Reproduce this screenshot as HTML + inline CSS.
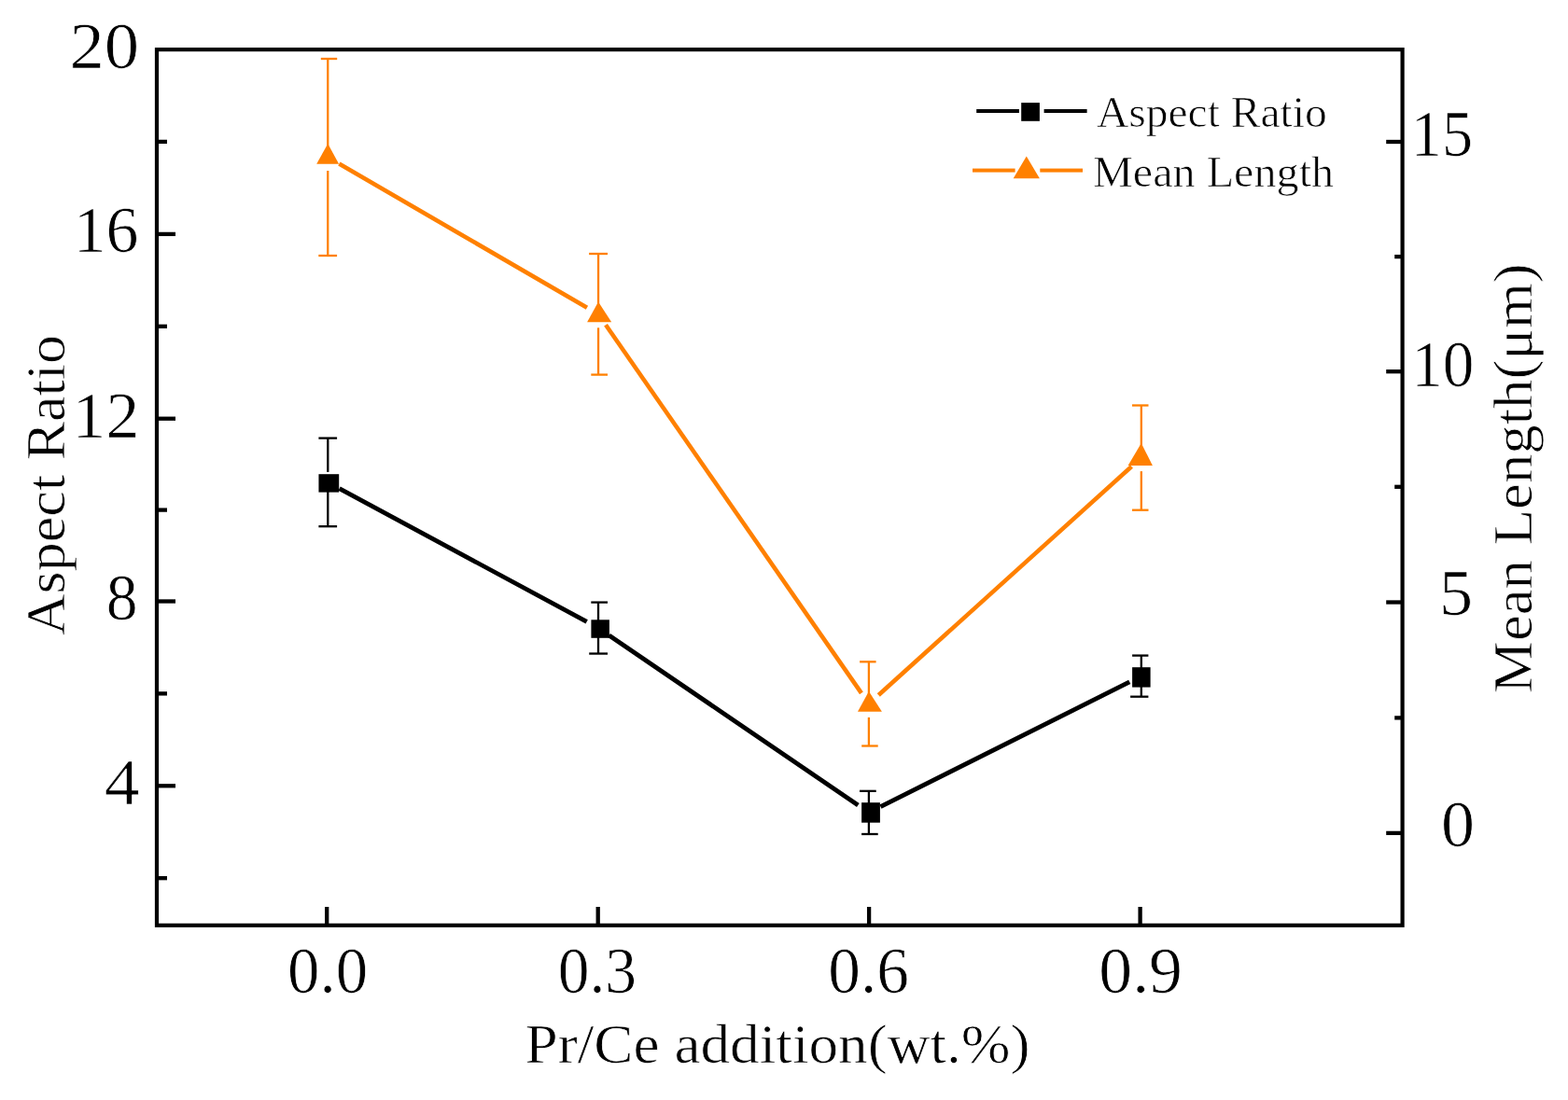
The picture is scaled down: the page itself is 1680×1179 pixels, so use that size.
<!DOCTYPE html>
<html><head><meta charset="utf-8"><title>Aspect Ratio and Mean Length vs Pr/Ce addition</title>
<style>
html,body{margin:0;padding:0;background:#fff;width:1680px;height:1179px;overflow:hidden}
svg{display:block}
text{font-family:'Liberation Serif', 'Times New Roman', serif;fill:#000;stroke:#fff;stroke-width:0.7;stroke-linejoin:round}
</style></head><body>
<svg width="1680" height="1179" viewBox="0 0 1680 1179">
<rect x="0" y="0" width="1680" height="1179" fill="#fff"/>
<line x1="363.62" y1="523.54" x2="628.68" y2="666.46" stroke="#000000" stroke-width="4.8"/>
<line x1="652.56" y1="680.99" x2="919.34" y2="863.01" stroke="#000000" stroke-width="4.8"/>
<line x1="943.42" y1="864.63" x2="1210.28" y2="730.92" stroke="#000000" stroke-width="4.8"/>
<line x1="363.36" y1="175.53" x2="628.94" y2="329.77" stroke="#FF8000" stroke-width="4.6"/>
<line x1="649.03" y1="348.30" x2="922.92" y2="742.90" stroke="#FF8000" stroke-width="4.6"/>
<line x1="941.29" y1="745.01" x2="1212.41" y2="499.99" stroke="#FF8000" stroke-width="4.6"/>
<line x1="351.3" y1="469.6" x2="351.3" y2="505.90" stroke="#000000" stroke-width="2.3"/>
<line x1="351.3" y1="524.90" x2="351.3" y2="564.2" stroke="#000000" stroke-width="2.3"/>
<line x1="341.4" y1="469.6" x2="361.1" y2="469.6" stroke="#000000" stroke-width="2.3"/>
<line x1="341.4" y1="564.2" x2="361.1" y2="564.2" stroke="#000000" stroke-width="2.3"/>
<line x1="641.0" y1="645.6" x2="641.0" y2="665.10" stroke="#000000" stroke-width="2.3"/>
<line x1="641.0" y1="681.10" x2="641.0" y2="700.55" stroke="#000000" stroke-width="2.3"/>
<line x1="633.3" y1="645.6" x2="651.0" y2="645.6" stroke="#000000" stroke-width="2.3"/>
<line x1="631.2" y1="700.55" x2="651.0" y2="700.55" stroke="#000000" stroke-width="2.3"/>
<line x1="930.9" y1="847.85" x2="930.9" y2="862.90" stroke="#000000" stroke-width="2.3"/>
<line x1="930.9" y1="878.90" x2="930.9" y2="894.0" stroke="#000000" stroke-width="2.3"/>
<line x1="921.0" y1="847.85" x2="938.7" y2="847.85" stroke="#000000" stroke-width="2.3"/>
<line x1="923.1" y1="894.0" x2="940.7" y2="894.0" stroke="#000000" stroke-width="2.3"/>
<line x1="1222.8" y1="702.6" x2="1222.8" y2="716.65" stroke="#000000" stroke-width="2.3"/>
<line x1="1222.8" y1="732.65" x2="1222.8" y2="746.7" stroke="#000000" stroke-width="2.3"/>
<line x1="1213.1" y1="702.6" x2="1230.4" y2="702.6" stroke="#000000" stroke-width="2.3"/>
<line x1="1211.1" y1="746.7" x2="1230.4" y2="746.7" stroke="#000000" stroke-width="2.3"/>
<line x1="351.25" y1="63.0" x2="351.25" y2="160.50" stroke="#FF8000" stroke-width="2.3"/>
<line x1="351.25" y1="183.00" x2="351.25" y2="274.0" stroke="#FF8000" stroke-width="2.3"/>
<line x1="343.8" y1="63.0" x2="361.2" y2="63.0" stroke="#FF8000" stroke-width="2.3"/>
<line x1="341.3" y1="274.0" x2="361.1" y2="274.0" stroke="#FF8000" stroke-width="2.3"/>
<line x1="641.05" y1="272.0" x2="641.05" y2="328.80" stroke="#FF8000" stroke-width="2.3"/>
<line x1="641.05" y1="351.30" x2="641.05" y2="401.6" stroke="#FF8000" stroke-width="2.3"/>
<line x1="631.1" y1="272.0" x2="651.0" y2="272.0" stroke="#FF8000" stroke-width="2.3"/>
<line x1="633.3" y1="401.6" x2="651.0" y2="401.6" stroke="#FF8000" stroke-width="2.3"/>
<line x1="930.9" y1="709.3" x2="930.9" y2="746.40" stroke="#FF8000" stroke-width="2.3"/>
<line x1="930.9" y1="768.90" x2="930.9" y2="799.5" stroke="#FF8000" stroke-width="2.3"/>
<line x1="921.1" y1="709.3" x2="938.6" y2="709.3" stroke="#FF8000" stroke-width="2.3"/>
<line x1="923.2" y1="799.5" x2="940.7" y2="799.5" stroke="#FF8000" stroke-width="2.3"/>
<line x1="1222.8" y1="434.5" x2="1222.8" y2="482.60" stroke="#FF8000" stroke-width="2.3"/>
<line x1="1222.8" y1="505.10" x2="1222.8" y2="546.7" stroke="#FF8000" stroke-width="2.3"/>
<line x1="1213.0" y1="434.5" x2="1230.5" y2="434.5" stroke="#FF8000" stroke-width="2.3"/>
<line x1="1213.0" y1="546.7" x2="1230.5" y2="546.7" stroke="#FF8000" stroke-width="2.3"/>
<rect x="341.45" y="508.2" width="21.75" height="19.40" fill="#000"/>
<rect x="633.4" y="664.3" width="19.50" height="19.50" fill="#000"/>
<rect x="923.1" y="860.2" width="19.80" height="21.50" fill="#000"/>
<rect x="1213.1" y="715.2" width="19.50" height="21.40" fill="#000"/>
<polygon points="351.25,154.00 363.10,175.70 339.20,175.70" fill="#FF8000"/>
<polygon points="641.05,323.40 655.20,345.20 629.10,345.20" fill="#FF8000"/>
<polygon points="930.90,741.10 944.90,762.80 919.00,762.80" fill="#FF8000"/>
<polygon points="1222.80,475.10 1234.90,499.00 1208.60,499.00" fill="#FF8000"/>
<rect x="168.0" y="53.1" width="1334.60" height="938.70" fill="none" stroke="#000" stroke-width="4.2"/>
<line x1="168.0" y1="250.9" x2="188" y2="250.9" stroke="#000" stroke-width="4.3"/>
<line x1="168.0" y1="448.7" x2="188" y2="448.7" stroke="#000" stroke-width="4.3"/>
<line x1="168.0" y1="644.5" x2="188" y2="644.5" stroke="#000" stroke-width="4.3"/>
<line x1="168.0" y1="842.3" x2="188" y2="842.3" stroke="#000" stroke-width="4.3"/>
<line x1="168.0" y1="151.9" x2="179" y2="151.9" stroke="#000" stroke-width="4.3"/>
<line x1="168.0" y1="349.8" x2="179" y2="349.8" stroke="#000" stroke-width="4.3"/>
<line x1="168.0" y1="546.6" x2="179" y2="546.6" stroke="#000" stroke-width="4.3"/>
<line x1="168.0" y1="743.4" x2="179" y2="743.4" stroke="#000" stroke-width="4.3"/>
<line x1="168.0" y1="941.2" x2="179" y2="941.2" stroke="#000" stroke-width="4.3"/>
<line x1="1502.6" y1="152.0" x2="1485.2" y2="152.0" stroke="#000" stroke-width="4.3"/>
<line x1="1502.6" y1="398.2" x2="1485.2" y2="398.2" stroke="#000" stroke-width="4.3"/>
<line x1="1502.6" y1="645.5" x2="1485.2" y2="645.5" stroke="#000" stroke-width="4.3"/>
<line x1="1502.6" y1="892.9" x2="1485.2" y2="892.9" stroke="#000" stroke-width="4.3"/>
<line x1="1502.6" y1="275.1" x2="1494.2" y2="275.1" stroke="#000" stroke-width="4.3"/>
<line x1="1502.6" y1="521.8" x2="1494.2" y2="521.8" stroke="#000" stroke-width="4.3"/>
<line x1="1502.6" y1="769.4" x2="1494.2" y2="769.4" stroke="#000" stroke-width="4.3"/>
<line x1="350.2" y1="991.8" x2="350.2" y2="972" stroke="#000" stroke-width="4.3"/>
<line x1="640.7" y1="991.8" x2="640.7" y2="972" stroke="#000" stroke-width="4.3"/>
<line x1="931.1" y1="991.8" x2="931.1" y2="972" stroke="#000" stroke-width="4.3"/>
<line x1="1221.6" y1="991.8" x2="1221.6" y2="972" stroke="#000" stroke-width="4.3"/>
<rect x="1046.2" y="117" width="45.7" height="4" fill="#000"/>
<rect x="1118.6" y="117" width="46" height="4" fill="#000"/>
<rect x="1094.2" y="110.1" width="19.7" height="19.7" fill="#000"/>
<rect x="1042" y="180.6" width="45.6" height="4" fill="#FF8000"/>
<rect x="1114.3" y="180.6" width="45.7" height="4" fill="#FF8000"/>
<polygon points="1099.8,167.4 1113.9,191.3 1085.7,191.3" fill="#FF8000"/>
<text x="74.40" y="72.80" font-size="69" textLength="74.64" lengthAdjust="spacingAndGlyphs">20</text>
<text x="78.70" y="270.15" font-size="69" textLength="69.86" lengthAdjust="spacingAndGlyphs">16</text>
<text x="77.60" y="468.75" font-size="69" textLength="71.72" lengthAdjust="spacingAndGlyphs">12</text>
<text x="113.80" y="664.15" font-size="69" textLength="33.78" lengthAdjust="spacingAndGlyphs">8</text>
<text x="111.80" y="861.70" font-size="69" textLength="37.79" lengthAdjust="spacingAndGlyphs">4</text>
<text x="1511.80" y="166.55" font-size="69" textLength="66.19" lengthAdjust="spacingAndGlyphs">15</text>
<text x="1512.20" y="413.60" font-size="69" textLength="67.16" lengthAdjust="spacingAndGlyphs">10</text>
<text x="1542.10" y="659.25" font-size="69" textLength="36.11" lengthAdjust="spacingAndGlyphs">5</text>
<text x="1543.90" y="907.45" font-size="69" textLength="35.97" lengthAdjust="spacingAndGlyphs">0</text>
<text x="308.00" y="1063.65" font-size="69" textLength="86.05" lengthAdjust="spacingAndGlyphs">0.0</text>
<text x="597.70" y="1063.65" font-size="69" textLength="84.39" lengthAdjust="spacingAndGlyphs">0.3</text>
<text x="887.30" y="1063.65" font-size="69" textLength="86.69" lengthAdjust="spacingAndGlyphs">0.6</text>
<text x="1177.30" y="1063.65" font-size="69" textLength="89.69" lengthAdjust="spacingAndGlyphs">0.9</text>
<text x="562.50" y="1138.50" font-size="59.4" textLength="541.13" lengthAdjust="spacingAndGlyphs">Pr/Ce addition(wt.%)</text>
<text transform="translate(68.70,681.20) rotate(-90)" x="0" y="0" font-size="59.4" textLength="322.33" lengthAdjust="spacingAndGlyphs">Aspect Ratio</text>
<text transform="translate(1641.00,742.90) rotate(-90)" x="0" y="0" font-size="59.4" textLength="460.63" lengthAdjust="spacingAndGlyphs">Mean Length(μm)</text>
<text x="1174.90" y="136.00" font-size="46.1" textLength="246.92" lengthAdjust="spacingAndGlyphs">Aspect Ratio</text>
<text x="1171.00" y="199.80" font-size="46.1" textLength="258.12" lengthAdjust="spacingAndGlyphs">Mean Length</text>
</svg>
</body></html>
